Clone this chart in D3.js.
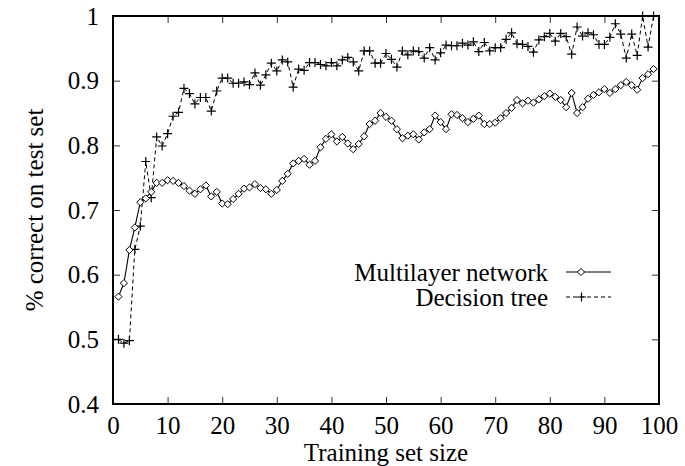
<!DOCTYPE html>
<html><head><meta charset="utf-8">
<script src="https://cdn.jsdelivr.net/npm/d3@7"></script>
<style>body{margin:0;background:#fff}svg{display:block}svg text{font-family:"Liberation Serif","Times New Roman",Times,"DejaVu Serif",serif !important;fill:#000}</style>
</head><body>
<svg id="c" width="685" height="466"></svg>
<script>
const xTicks = [0,10,20,30,40,50,60,70,80,90,100];
const yTicks = [0.4,0.5,0.6,0.7,0.8,0.9,1];
const yTickLabels = ["0.4","0.5","0.6","0.7","0.8","0.9","1"];
const seriesNames = ["Multilayer network","Decision tree"];
const trainingSizes = d3.range(1,100);
const multilayer = [0.566,0.587,0.638,0.673,0.712,0.718,0.728,0.742,0.742,0.746,
0.745,0.742,0.737,0.730,0.725,0.732,0.738,0.721,0.728,0.710,
0.709,0.717,0.725,0.733,0.735,0.740,0.734,0.732,0.725,0.731,
0.745,0.756,0.772,0.776,0.779,0.770,0.776,0.797,0.810,0.817,
0.806,0.813,0.803,0.794,0.802,0.814,0.833,0.838,0.850,0.844,
0.838,0.825,0.811,0.815,0.817,0.809,0.820,0.825,0.846,0.836,
0.825,0.848,0.847,0.842,0.836,0.841,0.846,0.833,0.833,0.835,
0.842,0.850,0.858,0.870,0.865,0.869,0.866,0.871,0.876,0.880,
0.875,0.870,0.859,0.881,0.850,0.859,0.872,0.878,0.882,0.887,
0.881,0.887,0.893,0.898,0.893,0.886,0.904,0.910,0.918];
const decisionTree = [0.500,0.494,0.498,0.639,0.675,0.775,0.719,0.813,0.799,0.818,
0.845,0.851,0.888,0.880,0.864,0.874,0.874,0.853,0.884,0.904,
0.904,0.896,0.896,0.898,0.894,0.912,0.893,0.909,0.927,0.915,
0.932,0.929,0.890,0.918,0.916,0.928,0.928,0.925,0.923,0.928,
0.923,0.932,0.936,0.929,0.915,0.946,0.946,0.927,0.927,0.942,
0.933,0.921,0.946,0.940,0.946,0.945,0.935,0.951,0.932,0.943,
0.955,0.954,0.954,0.958,0.955,0.960,0.945,0.959,0.946,0.951,
0.951,0.964,0.974,0.957,0.956,0.953,0.944,0.963,0.968,0.973,
0.961,0.973,0.968,0.941,0.983,0.969,0.974,0.971,0.956,0.956,
0.967,0.988,0.972,0.935,0.972,0.939,1.000,0.952,1.000];

const W=685,H=466, m={l:113,r:26,t:16,b:62};
const svg=d3.select("#c");
const x=d3.scaleLinear().domain([0,100]).range([m.l,W-m.r]);
const y=d3.scaleLinear().domain([0.4,1]).range([H-m.b,m.t]);
const FS=25;
const FF='"Liberation Serif","Times New Roman",Times,"DejaVu Serif",serif';

const ax=svg.append("g");
ax.append("g").attr("transform",`translate(0,${H-m.b})`)
  .call(d3.axisBottom(x).tickValues(xTicks).tickSize(-7).tickPadding(12).tickFormat(d3.format("d")));
ax.append("g").attr("transform",`translate(0,${m.t})`)
  .call(d3.axisTop(x).tickValues(xTicks).tickSize(-7).tickFormat(""));
ax.append("g").attr("transform",`translate(${m.l},0)`)
  .call(d3.axisLeft(y).tickValues(yTicks).tickSize(-7).tickPadding(14).tickFormat((d,i)=>yTickLabels[i]));
ax.append("g").attr("transform",`translate(${W-m.r},0)`)
  .call(d3.axisRight(y).tickValues(yTicks).tickSize(-7).tickFormat(""));
ax.selectAll("g").attr("font-family",FF).attr("font-size",FS);
ax.selectAll(".domain").remove();
ax.selectAll(".tick line").attr("stroke","#333").attr("stroke-width",1);
ax.selectAll(".tick text").style("font-family",FF).style("font-size",FS+"px");
svg.append("rect").attr("x",m.l).attr("y",m.t).attr("width",W-m.l-m.r).attr("height",H-m.t-m.b)
  .attr("fill","none").attr("stroke","#000").attr("stroke-width",2);

svg.append("text").attr("x",(m.l+W-m.r)/2).attr("y",461).attr("text-anchor","middle")
  .style("font-family",FF).style("font-size",FS+"px").text("Training set size");
svg.append("text").attr("transform",`translate(43,${(m.t+H-m.b)/2}) rotate(-90)`).attr("text-anchor","middle")
  .style("font-family",FF).style("font-size",FS+"px").text("% correct on test set");

const line=d3.line().x((d,i)=>x(trainingSizes[i])).y(d=>y(d));
const diamond=(g,cx,cy)=>g.append("path").attr("d",`M${cx},${cy-3.6}L${cx+3.6},${cy}L${cx},${cy+3.6}L${cx-3.6},${cy}Z`)
  .attr("fill","#fff").attr("stroke","#000").attr("stroke-width",1);
const plus=(g,cx,cy)=>g.append("path").attr("d",`M${cx-4.5},${cy}H${cx+4.5}M${cx},${cy-4.5}V${cy+4.5}`)
  .attr("stroke","#000").attr("stroke-width",1.2);

const gd=svg.append("g");
gd.append("path").datum(decisionTree).attr("d",line).attr("fill","none").attr("stroke","#000").attr("stroke-width",1).attr("stroke-dasharray","4,3");
decisionTree.forEach((v,i)=>plus(gd,x(trainingSizes[i]),y(v)));

const gm=svg.append("g");
gm.append("path").datum(multilayer).attr("d",line).attr("fill","none").attr("stroke","#000").attr("stroke-width",1.1);
multilayer.forEach((v,i)=>diamond(gm,x(trainingSizes[i]),y(v)));

const lg=svg.append("g");
const ly=[272,297];
seriesNames.forEach((n,i)=>{
  lg.append("text").attr("x",548).attr("y",ly[i]).attr("dy","0.35em").attr("text-anchor","end")
    .style("font-family",FF).style("font-size",FS+"px").text(n);
  lg.append("line").attr("x1",566).attr("x2",611).attr("y1",ly[i]).attr("y2",ly[i]).attr("stroke","#000")
    .attr("stroke-width",1).attr("stroke-dasharray",i?"4,3":null);
});
diamond(lg,581,ly[0]);
plus(lg,581.5,ly[1]);
</script>
</body></html>
